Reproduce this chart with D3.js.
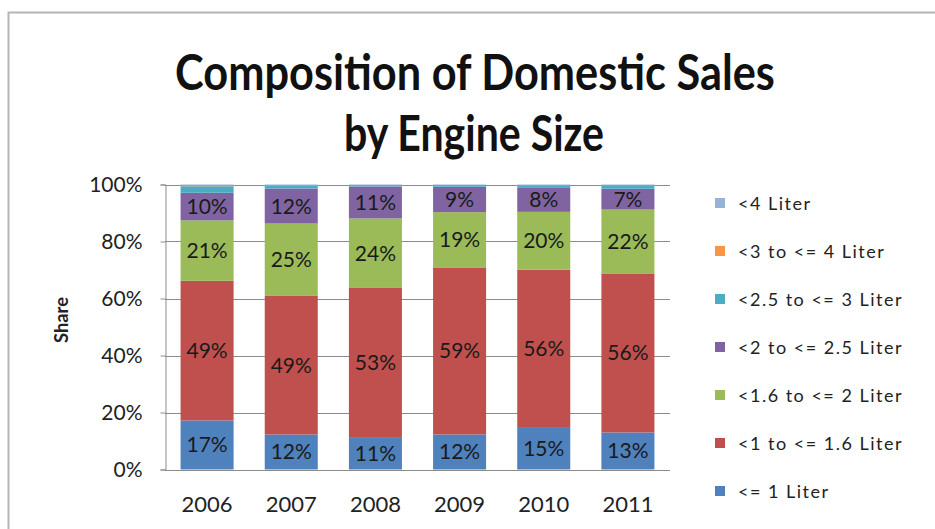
<!DOCTYPE html>
<html><head><meta charset="utf-8">
<script src="https://cdn.jsdelivr.net/npm/d3@7"></script>
<style>body{margin:0;background:#fff;}svg{display:block;}</style>
</head><body>
<svg id="c" width="935" height="529"></svg>
<script>
const years = ["2006","2007","2008","2009","2010","2011"];
const seriesNames = ["<= 1 Liter","<1 to <= 1.6 Liter","<1.6 to <= 2 Liter","<2 to <= 2.5 Liter","<2.5 to <= 3 Liter","<3 to <= 4 Liter","<4 Liter"];
const le1    = [17.2, 12.3, 11.1, 12.3, 14.6, 13.0];
const le16   = [49.0, 48.6, 52.6, 58.6, 55.5, 55.8];
const le2    = [21.2, 25.4, 24.4, 19.4, 20.3, 22.4];
const le25   = [9.7, 12.3, 11.2, 8.9, 8.4, 7.3];
const le3    = [2.3, 0.9, 0.4, 0.5, 0.8, 1.1];
const le4    = [0.3, 0.3, 0.1, 0.1, 0.1, 0.1];
const gt4    = [0.3, 0.2, 0.2, 0.2, 0.3, 0.3];
const yTicks = [0, 0.2, 0.4, 0.6, 0.8, 1.0];
const titleLines = ["Composition of Domestic Sales", "by Engine Size"];
const labeled = [true, true, true, true, false, false, false];
const colors = ["#4F81BD","#C0504D","#9BBB59","#8064A2","#4BACC6","#F79646","#95B3D7"];

const allSeries = [le1, le16, le2, le25, le3, le4, gt4];
const rows = years.map((y, i) => {
  const r = {year: y};
  seriesNames.forEach((s, j) => r[s] = allSeries[j][i] / 100);
  return r;
});

const svg = d3.select("#c");
const font = "Lato, 'Open Sans', sans-serif";

// frame
svg.append("path").attr("d", "M8.5,529 V12.5 H935").attr("fill", "none").attr("stroke", "#b5b5b5").attr("stroke-width", 2);

// title (tall, narrow face: scale horizontally to the target width)
const titleSpec = [{cx: 475, y: 90, w: 600}, {cx: 474, y: 151, w: 260}];
titleLines.forEach((t, i) => {
  const g = svg.append("g");
  const tx = g.append("text").attr("text-anchor", "middle").attr("font-family", font)
    .attr("font-weight", "bold").attr("font-size", 50).attr("fill", "#111").text(t);
  const len = tx.node().getComputedTextLength();
  const s = titleSpec[i].w / len;
  g.attr("transform", `translate(${titleSpec[i].cx},${titleSpec[i].y}) scale(${s},1)`);
});

const m = {left: 165, right: 670, top: 184.5, bottom: 469.5};
const x = d3.scaleBand().domain(years).range([m.left, m.right]).paddingInner(0.37).paddingOuter(0.185);
const y = d3.scaleLinear().domain([0, 1]).range([m.bottom, m.top]);

// gridlines
svg.append("g").selectAll("line").data(yTicks).join("line")
  .attr("x1", m.left).attr("x2", m.right)
  .attr("y1", d => Math.round(y(d)) + 0.5).attr("y2", d => Math.round(y(d)) + 0.5)
  .attr("stroke", "#8c8c8c").attr("stroke-width", 1);

// y axis
const yAxis = svg.append("g").attr("transform", `translate(${m.left + 0.5},0)`)
  .call(d3.axisLeft(y).tickValues(yTicks).tickFormat(d3.format(".0%")).tickSize(5).tickPadding(18));
yAxis.select(".domain").attr("stroke", "#8c8c8c");
yAxis.selectAll(".tick line").attr("stroke", "#8c8c8c");
yAxis.selectAll("text").attr("font-family", font).attr("font-size", 21).attr("fill", "#222");

svg.append("text").attr("transform", "translate(68,320) rotate(-90)").attr("text-anchor", "middle")
  .attr("font-family", font).attr("font-size", 19).attr("font-weight", "bold").attr("fill", "#222")
  .attr("textLength", 46).attr("lengthAdjust", "spacingAndGlyphs").text("Share");

// stacked bars
const stack = d3.stack().keys(seriesNames)(rows);
const layers = svg.append("g").selectAll("g").data(stack).join("g").attr("fill", (d, i) => colors[i]);
layers.selectAll("rect").data(d => d).join("rect")
  .attr("x", d => x(d.data.year)).attr("width", x.bandwidth())
  .attr("y", d => y(d[1])).attr("height", d => y(d[0]) - y(d[1]));

// labels
const lab = svg.append("g");
stack.forEach((layer, i) => {
  if (!labeled[i]) return;
  lab.selectAll(null).data(layer).join("text")
    .attr("x", d => x(d.data.year) + x.bandwidth() / 2)
    .attr("y", d => (y(d[0]) + y(d[1])) / 2 + 7.5)
    .attr("text-anchor", "middle").attr("font-family", font).attr("font-size", 21).attr("fill", "#1a1a1a")
    .text(d => Math.round((d[1] - d[0]) * 100) + "%");
});

// x axis labels
svg.append("g").selectAll("text").data(years).join("text")
  .attr("x", d => x(d) + x.bandwidth() / 2).attr("y", 512)
  .attr("text-anchor", "middle").attr("font-family", font).attr("font-size", 22).attr("fill", "#222").text(d => d);

// legend (reverse order)
const legendOrder = seriesNames.map((s, i) => i).reverse();
const lg = svg.append("g");
legendOrder.forEach((idx, k) => {
  const cy = 203 + k * 48;
  lg.append("rect").attr("x", 715).attr("y", cy - 5).attr("width", 10).attr("height", 10).attr("fill", colors[idx]);
  lg.append("text").attr("x", 738).attr("y", cy + 7).attr("font-family", font).attr("font-size", 18)
    .attr("letter-spacing", 1.5).attr("fill", "#222").text(seriesNames[idx]);
});
</script>
</body></html>
